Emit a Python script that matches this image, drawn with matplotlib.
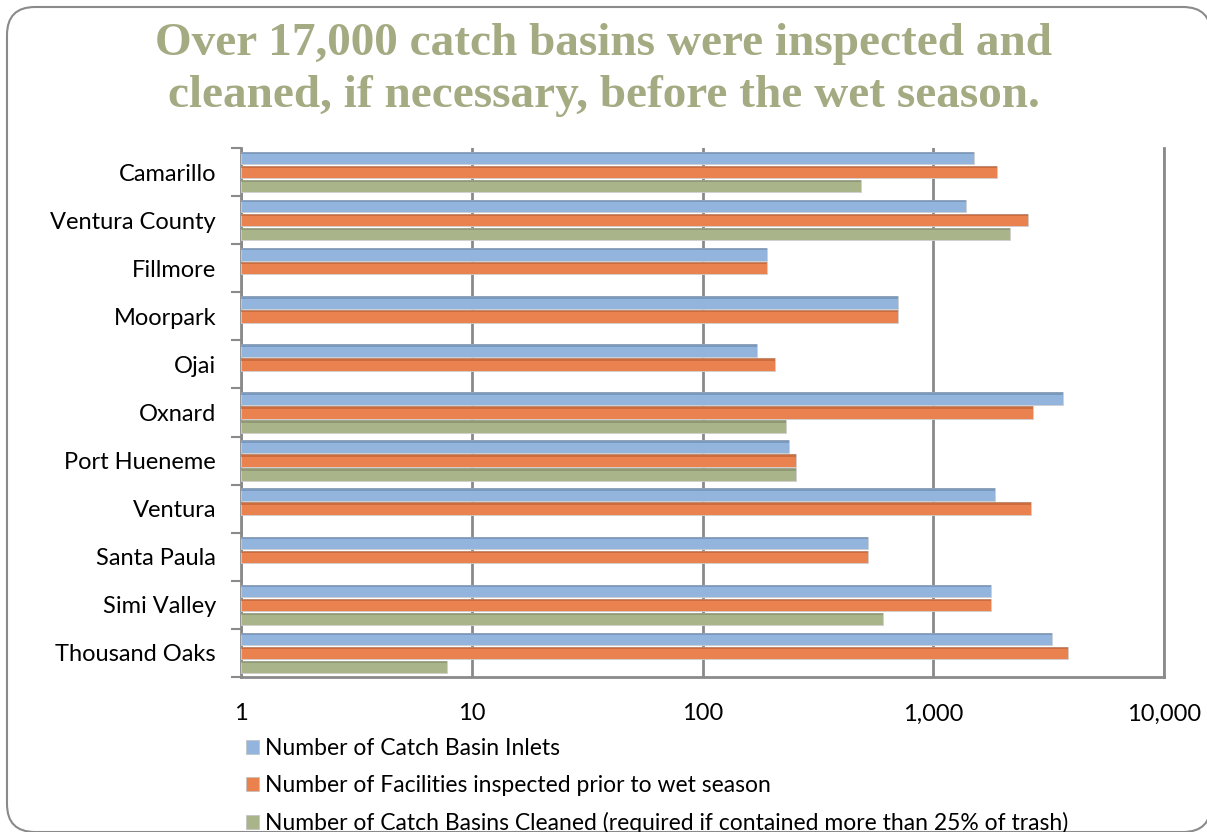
import numpy as np
import matplotlib.pyplot as plt
from matplotlib.patches import FancyBboxPatch, Patch

# data (log scale, so values are estimates)
cities = ['Camarillo', 'Ventura County', 'Fillmore', 'Moorpark', 'Ojai', 'Oxnard',
          'Port Hueneme', 'Ventura', 'Santa Paula', 'Simi Valley', 'Thousand Oaks']
inlets = [1500, 1390, 189, 704, 172, 3650, 235, 1855, 522, 1780, 3280]
inspected = [1890, 2580, 189, 704, 206, 2710, 252, 2650, 522, 1780, 3850]
cleaned = [487, 2150, np.nan, np.nan, np.nan, 230, 252, np.nan, np.nan, 607, 6.8]

series_names = ['Number of Catch Basin Inlets',
                'Number of Facilities inspected prior to wet season',
                'Number of Catch Basins Cleaned (required if contained more than 25% of trash)']
series_colors = ['#93b4dc', '#e9824f', '#a9b48b']
series_dark = ['#6a87aa', '#b85f34', '#7f8a66']
xtick_vals = [1, 10, 100, 1000, 10000]
xtick_labels = ['1', '10', '100', '1,000', '10,000']

W, H = 1207, 832
fig = plt.figure(figsize=(W / 100, H / 100), dpi=100)
plt.rcParams['font.family'] = ['Lato', 'DejaVu Sans']

# rounded slide frame behind everything
bg = fig.add_axes([0, 0, 1, 1])
bg.set_xlim(0, W)
bg.set_ylim(H, 0)
bg.axis('off')
bg.add_patch(FancyBboxPatch((7, 7), 1204, 825, boxstyle='round,pad=0,rounding_size=28',
                            facecolor='white', edgecolor='#8a8a8a', linewidth=1.5))

fig.text(0.5, 1 - 70 / H, 'Over 17,000 catch basins were inspected and\ncleaned, if necessary, before the wet season.',
         ha='center', va='center', fontsize=34, fontweight='bold', color='#a4ab82',
         family='Liberation Serif', linespacing=1.33)

ax = fig.add_axes([241 / W, 1 - 677 / H, (1164 - 241) / W, (677 - 148) / H])
ax.set_xscale('log')
ax.set_xlim(1, 10000)

y = np.arange(len(cities))
bh = 0.26
off = 0.29
for k, (vals, c, d) in enumerate(zip([inlets, inspected, cleaned], series_colors, series_dark)):
    ax.barh(y + (k - 1) * off, vals, height=bh, left=1, color=c,
            edgecolor='#d0d0d0', linewidth=0.6, zorder=3)
    # darker strip along the top of each bar for the shaded look
    ax.barh(y + (k - 1) * off - bh / 2 + 0.025, vals, height=0.05, left=1, color=d,
            alpha=0.6, linewidth=0, zorder=4)

ax.set_ylim(len(cities) - 0.5, -0.5)
ax.set_yticks(y)
ax.set_yticklabels(cities, fontsize=17)
ax.set_yticks(np.arange(len(cities) + 1) - 0.5, minor=True)
ax.tick_params(axis='y', which='major', length=0, pad=18)
ax.tick_params(axis='y', which='minor', length=7, width=1.5, color='#8a8a8a')

ax.set_xticks(xtick_vals)
ax.set_xticklabels(xtick_labels, fontsize=17)
ax.xaxis.set_minor_locator(plt.NullLocator())
ax.tick_params(axis='x', length=0, pad=19)
ax.grid(axis='x', color='#8a8a8a', linewidth=2, zorder=1)
ax.set_axisbelow(True)

for s in ['left', 'bottom', 'right']:
    ax.spines[s].set_color('#8a8a8a')
    ax.spines[s].set_linewidth(2)
ax.spines['top'].set_visible(False)

handles = [Patch(facecolor=c, edgecolor='#c0c0c0', linewidth=0.5) for c in series_colors]
fig.legend(handles, series_names, loc='upper left', bbox_to_anchor=(246 / W, 1 - 738 / H),
           frameon=False, fontsize=16.5, handlelength=0.55, handleheight=0.55,
           handletextpad=0.3, labelspacing=0.70, borderaxespad=0, borderpad=0)

fig.savefig('out.png', dpi=100)
